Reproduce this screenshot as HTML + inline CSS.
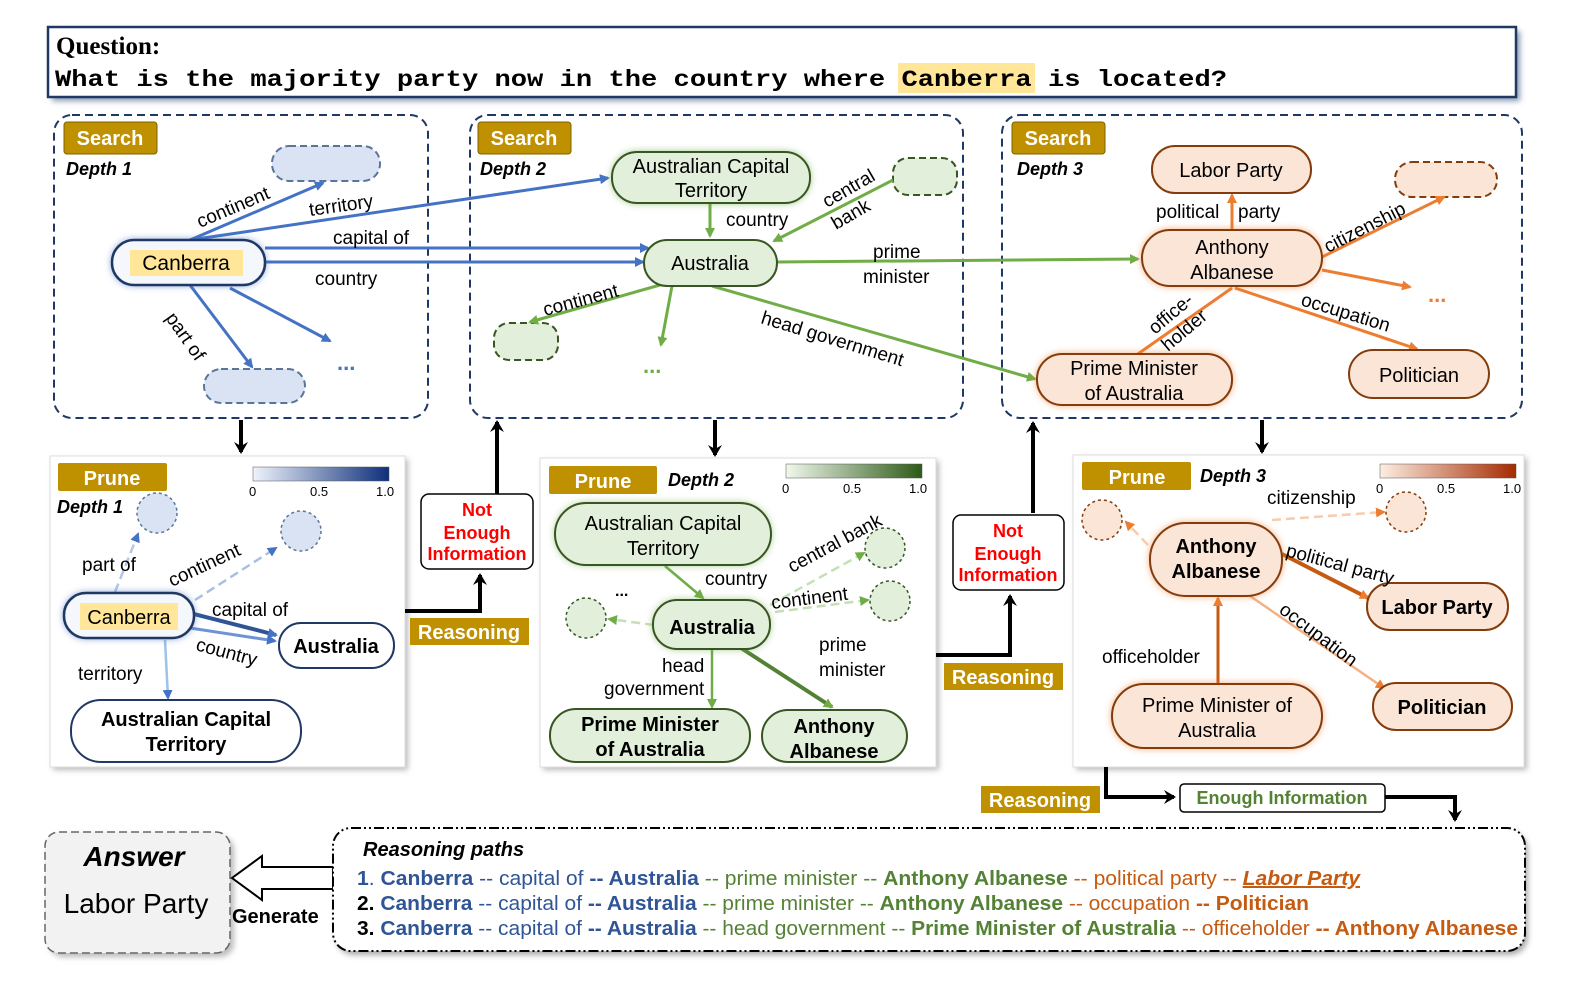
<!DOCTYPE html>
<html><head><meta charset="utf-8"><style>
html,body{margin:0;padding:0;background:#fff;}
svg{display:block;font-family:"Liberation Sans",Arial,sans-serif;}
</style></head><body>
<svg width="1570" height="1002" viewBox="0 0 1570 1002" xmlns="http://www.w3.org/2000/svg">
<defs>
<filter id="gl" x="-30%" y="-50%" width="160%" height="200%"><feGaussianBlur stdDeviation="4"/></filter>
<filter id="sh" x="-5%" y="-5%" width="110%" height="115%"><feGaussianBlur stdDeviation="3"/></filter>
<marker id="ab" markerWidth="10" markerHeight="10" refX="8" refY="5" orient="auto" markerUnits="userSpaceOnUse"><path d="M0,0 L10,5 L0,10 z" fill="#4472c4"/></marker>
<marker id="ag" markerWidth="10" markerHeight="10" refX="8" refY="5" orient="auto" markerUnits="userSpaceOnUse"><path d="M0,0 L10,5 L0,10 z" fill="#70ad47"/></marker>
<marker id="ao" markerWidth="10" markerHeight="10" refX="8" refY="5" orient="auto" markerUnits="userSpaceOnUse"><path d="M0,0 L10,5 L0,10 z" fill="#ed7d31"/></marker>
<marker id="ak" markerWidth="14" markerHeight="14" refX="10" refY="7" orient="auto" markerUnits="userSpaceOnUse"><path d="M0,0 L12,7 L0,14 L4,7 z" fill="#000"/></marker>
<linearGradient id="cb" x1="0" x2="1"><stop offset="0" stop-color="#eef3fb"/><stop offset="1" stop-color="#0e2f7a"/></linearGradient>
<linearGradient id="cg" x1="0" x2="1"><stop offset="0" stop-color="#f1f8ec"/><stop offset="1" stop-color="#2d5a17"/></linearGradient>
<linearGradient id="co" x1="0" x2="1"><stop offset="0" stop-color="#fdeee3"/><stop offset="1" stop-color="#a52a00"/></linearGradient>
</defs>

<!-- Question -->
<rect x="52" y="31" width="1468" height="70" fill="#8a9ab5" filter="url(#sh)"/>
<rect x="48" y="27" width="1468" height="70" fill="#fff" stroke="#1f3864" stroke-width="2.5"/>
<text x="56" y="54" font-family="Liberation Serif,serif" font-weight="bold" font-size="25">Question:</text>
<rect x="898" y="63" width="137" height="30" fill="#ffe699"/>
<text x="55" y="86" font-family="Liberation Mono,monospace" font-weight="bold" font-size="23" textLength="1172" lengthAdjust="spacingAndGlyphs">What is the majority party now in the country where Canberra is located?</text>

<!-- Search panels -->
<rect x="54" y="115" width="374" height="303" rx="18" fill="none" stroke="#1f3864" stroke-width="2" stroke-dasharray="8,5"/>
<rect x="470" y="115" width="493" height="303" rx="18" fill="none" stroke="#1f3864" stroke-width="2" stroke-dasharray="8,5"/>
<rect x="1002" y="115" width="520" height="303" rx="18" fill="none" stroke="#1f3864" stroke-width="2" stroke-dasharray="8,5"/>
<g font-weight="bold" font-size="20" fill="#fff">
<rect x="64" y="122" width="93" height="32" rx="3" fill="#bf9000" stroke="#7f6000"/><text x="110" y="145" text-anchor="middle">Search</text>
<rect x="478" y="122" width="93" height="32" rx="3" fill="#bf9000" stroke="#7f6000"/><text x="524" y="145" text-anchor="middle">Search</text>
<rect x="1012" y="122" width="93" height="32" rx="3" fill="#bf9000" stroke="#7f6000"/><text x="1058" y="145" text-anchor="middle">Search</text>
</g>
<g font-weight="bold" font-style="italic" font-size="18">
<text x="66" y="175">Depth 1</text><text x="480" y="175">Depth 2</text><text x="1017" y="175">Depth 3</text>
</g>

<!-- Panel 1 search -->
<rect x="272" y="146" width="108" height="35" rx="17" fill="#dae3f3" stroke="#5a7599" stroke-width="2" stroke-dasharray="7,4"/>
<rect x="204" y="369" width="101" height="34" rx="17" fill="#dae3f3" stroke="#5a7599" stroke-width="2" stroke-dasharray="7,4"/>
<g stroke="#4472c4" stroke-width="3" fill="none">
<line x1="190" y1="240" x2="323" y2="183" marker-end="url(#ab)"/>
<line x1="190" y1="240" x2="608" y2="178" marker-end="url(#ab)"/>
<line x1="265" y1="248" x2="648" y2="248" marker-end="url(#ab)"/>
<line x1="265" y1="262" x2="643" y2="262" marker-end="url(#ab)"/>
<line x1="190" y1="285" x2="252" y2="367" marker-end="url(#ab)"/>
<line x1="230" y1="288" x2="330" y2="341" marker-end="url(#ab)"/>
</g>
<rect x="112" y="240" width="153" height="45" rx="22" fill="#4472c4" filter="url(#gl)" opacity="0.8"/>
<rect x="112" y="240" width="153" height="45" rx="22" fill="#f4f7fc" stroke="#1f3864" stroke-width="2.5"/>
<rect x="130" y="250" width="113" height="26" fill="#ffe699"/>
<text x="186" y="270" text-anchor="middle" font-size="21">Canberra</text>
<g font-size="19">
<text transform="translate(200,228) rotate(-23)">continent</text>
<text transform="translate(310,216) rotate(-8)">territory</text>
<text x="333" y="244">capital of</text>
<text x="315" y="285">country</text>
<text transform="translate(165,318) rotate(55)">part of</text>
</g>
<text x="337" y="370" font-size="22" fill="#4472c4" font-weight="bold">...</text>

<!-- Panel 2 search -->
<rect x="893" y="158" width="64" height="37" rx="15" fill="#e2efda" stroke="#375623" stroke-width="2" stroke-dasharray="7,4"/>
<rect x="494" y="323" width="64" height="37" rx="15" fill="#e2efda" stroke="#375623" stroke-width="2" stroke-dasharray="7,4"/>
<g stroke="#70ad47" stroke-width="3" fill="none">
<line x1="710" y1="203" x2="710" y2="236" marker-end="url(#ag)"/>
<line x1="893" y1="180" x2="774" y2="241" marker-end="url(#ag)"/>
<line x1="660" y1="285" x2="530" y2="322" marker-end="url(#ag)"/>
<line x1="672" y1="286" x2="661" y2="345" marker-end="url(#ag)"/>
<line x1="777" y1="262" x2="1138" y2="259" marker-end="url(#ag)"/>
<line x1="712" y1="286" x2="1035" y2="379" marker-end="url(#ag)"/>
</g>
<rect x="612" y="152" width="198" height="51" rx="25" fill="#70ad47" filter="url(#gl)" opacity="0.8"/>
<rect x="612" y="152" width="198" height="51" rx="25" fill="#e2efda" stroke="#375623" stroke-width="2"/>
<text x="711" y="173" text-anchor="middle" font-size="20">Australian Capital</text>
<text x="711" y="197" text-anchor="middle" font-size="20">Territory</text>
<rect x="644" y="240" width="133" height="46" rx="23" fill="#e2efda" stroke="#375623" stroke-width="2"/>
<text x="710" y="270" text-anchor="middle" font-size="20">Australia</text>
<g font-size="19">
<text x="726" y="226">country</text>
<text transform="translate(827,208) rotate(-30)">central</text>
<text transform="translate(836,230) rotate(-30)">bank</text>
<text transform="translate(545,316) rotate(-15)">continent</text>
<text x="873" y="258">prime</text>
<text x="863" y="283">minister</text>
<text transform="translate(760,323) rotate(17)">head government</text>
</g>
<text x="643" y="373" font-size="22" fill="#70ad47" font-weight="bold">...</text>

<!-- Panel 3 search -->
<rect x="1395" y="162" width="102" height="35" rx="17" fill="#fbe5d6" stroke="#843c0c" stroke-width="2" stroke-dasharray="7,4"/>
<g stroke="#ed7d31" stroke-width="3" fill="none">
<line x1="1232" y1="231" x2="1232" y2="195" marker-end="url(#ao)"/>
<line x1="1320" y1="258" x2="1444" y2="197" marker-end="url(#ao)"/>
<line x1="1322" y1="270" x2="1410" y2="287" marker-end="url(#ao)"/>
<line x1="1235" y1="288" x2="1417" y2="349" marker-end="url(#ao)"/>
<line x1="1135" y1="356" x2="1232" y2="288"/>
</g>
<rect x="1152" y="146" width="159" height="47" rx="23" fill="#fbe5d6" stroke="#843c0c" stroke-width="2"/>
<text x="1231" y="177" text-anchor="middle" font-size="20">Labor Party</text>
<rect x="1142" y="230" width="180" height="56" rx="28" fill="#ed7d31" filter="url(#gl)" opacity="0.8"/>
<rect x="1142" y="230" width="180" height="56" rx="28" fill="#fbe5d6" stroke="#843c0c" stroke-width="2"/>
<text x="1232" y="254" text-anchor="middle" font-size="20">Anthony</text>
<text x="1232" y="279" text-anchor="middle" font-size="20">Albanese</text>
<rect x="1037" y="354" width="195" height="51" rx="25" fill="#ed7d31" filter="url(#gl)" opacity="0.8"/>
<rect x="1037" y="354" width="195" height="51" rx="25" fill="#fbe5d6" stroke="#843c0c" stroke-width="2"/>
<text x="1134" y="375" text-anchor="middle" font-size="20">Prime Minister</text>
<text x="1134" y="400" text-anchor="middle" font-size="20">of Australia</text>
<rect x="1349" y="350" width="140" height="48" rx="24" fill="#fbe5d6" stroke="#843c0c" stroke-width="2"/>
<text x="1419" y="382" text-anchor="middle" font-size="20">Politician</text>
<g font-size="19">
<text x="1156" y="218">political</text>
<text x="1238" y="218">party</text>
<text transform="translate(1328,253) rotate(-27)">citizenship</text>
<text transform="translate(1300,305) rotate(17)">occupation</text>
<text transform="translate(1155,335) rotate(-40)">office-</text>
<text transform="translate(1168,352) rotate(-40)">holder</text>
</g>
<text x="1428" y="302" font-size="22" fill="#ed7d31" font-weight="bold">...</text>

<!-- Prune panels -->
<g>
<rect x="53" y="459" width="355" height="311" fill="#bbb" filter="url(#sh)"/>
<rect x="50" y="456" width="355" height="311" fill="#fff" stroke="#ddd"/>
<rect x="543" y="461" width="396" height="309" fill="#bbb" filter="url(#sh)"/>
<rect x="540" y="458" width="396" height="309" fill="#fff" stroke="#ddd"/>
<rect x="1076" y="458" width="451" height="312" fill="#bbb" filter="url(#sh)"/>
<rect x="1073" y="455" width="451" height="312" fill="#fff" stroke="#ddd"/>
</g>
<g font-weight="bold" font-size="20" fill="#fff">
<rect x="58" y="463" width="109" height="28" rx="2" fill="#bf9000"/><text x="112" y="485" text-anchor="middle">Prune</text>
<rect x="549" y="466" width="108" height="28" rx="2" fill="#bf9000"/><text x="603" y="488" text-anchor="middle">Prune</text>
<rect x="1082" y="462" width="109" height="28" rx="2" fill="#bf9000"/><text x="1137" y="484" text-anchor="middle">Prune</text>
</g>
<g font-weight="bold" font-style="italic" font-size="18">
<text x="57" y="513">Depth 1</text><text x="668" y="486">Depth 2</text><text x="1200" y="482">Depth 3</text>
</g>
<g font-size="13">
<rect x="253" y="467" width="136" height="14" fill="url(#cb)" stroke="#555" stroke-width="0.5"/>
<text x="249" y="496">0</text><text x="310" y="496">0.5</text><text x="376" y="496">1.0</text>
<rect x="786" y="464" width="136" height="14" fill="url(#cg)" stroke="#555" stroke-width="0.5"/>
<text x="782" y="493">0</text><text x="843" y="493">0.5</text><text x="909" y="493">1.0</text>
<rect x="1380" y="464" width="136" height="14" fill="url(#co)" stroke="#555" stroke-width="0.5"/>
<text x="1376" y="493">0</text><text x="1437" y="493">0.5</text><text x="1503" y="493">1.0</text>
</g>

<!-- Prune 1 -->
<g stroke="#5a7599" stroke-width="1.5" stroke-dasharray="3,3" fill="#dae3f3">
<circle cx="157" cy="513" r="20"/><circle cx="301" cy="531" r="20"/>
</g>
<g fill="none">
<line x1="115" y1="592" x2="138" y2="534" stroke="#b4c7e7" stroke-width="2.5" stroke-dasharray="9,5" marker-end="url(#ab)"/>
<line x1="195" y1="600" x2="276" y2="548" stroke="#a9bfe3" stroke-width="2.5" stroke-dasharray="9,5" marker-end="url(#ab)"/>
<line x1="194" y1="614" x2="276" y2="635" stroke="#2f5597" stroke-width="4" marker-end="url(#ab)"/>
<line x1="190" y1="628" x2="275" y2="641" stroke="#6f94d4" stroke-width="3" marker-end="url(#ab)"/>
<line x1="165" y1="640" x2="168" y2="698" stroke="#9dc3e6" stroke-width="2.5" marker-end="url(#ab)"/>
</g>
<rect x="64" y="593" width="130" height="45" rx="22" fill="#4472c4" filter="url(#gl)" opacity="0.8"/>
<rect x="64" y="593" width="130" height="45" rx="22" fill="#f4f7fc" stroke="#1f3864" stroke-width="2.5"/>
<rect x="80" y="603" width="98" height="27" fill="#ffe699"/>
<text x="129" y="624" text-anchor="middle" font-size="20">Canberra</text>
<rect x="279" y="623" width="115" height="45" rx="22" fill="#fff" stroke="#1f3864" stroke-width="2"/>
<text x="336" y="653" text-anchor="middle" font-size="20" font-weight="bold">Australia</text>
<rect x="71" y="700" width="230" height="62" rx="30" fill="#fff" stroke="#1f3864" stroke-width="2"/>
<text x="186" y="726" text-anchor="middle" font-size="20" font-weight="bold">Australian Capital</text>
<text x="186" y="751" text-anchor="middle" font-size="20" font-weight="bold">Territory</text>
<g font-size="19">
<text x="82" y="571">part of</text>
<text transform="translate(172,587) rotate(-25)">continent</text>
<text x="212" y="616">capital of</text>
<text transform="translate(195,650) rotate(15)">country</text>
<text x="78" y="680">territory</text>
</g>

<!-- Prune 2 -->
<g stroke="#375623" stroke-width="1.5" stroke-dasharray="3,3" fill="#e2efda">
<circle cx="586" cy="618" r="20"/><circle cx="885" cy="548" r="20"/><circle cx="890" cy="601" r="20"/>
</g>
<g fill="none">
<line x1="665" y1="566" x2="703" y2="598" stroke="#70ad47" stroke-width="2.5" marker-end="url(#ag)"/>
<line x1="770" y1="605" x2="864" y2="553" stroke="#c5e0b4" stroke-width="2.5" stroke-dasharray="9,5" marker-end="url(#ag)"/>
<line x1="775" y1="612" x2="868" y2="600" stroke="#c5e0b4" stroke-width="2.5" stroke-dasharray="9,5" marker-end="url(#ag)"/>
<line x1="654" y1="625" x2="609" y2="619" stroke="#c5e0b4" stroke-width="2.5" stroke-dasharray="9,5" marker-end="url(#ag)"/>
<line x1="712" y1="650" x2="712" y2="707" stroke="#70ad47" stroke-width="2.5" marker-end="url(#ag)"/>
<line x1="741" y1="648" x2="832" y2="707" stroke="#548235" stroke-width="4" marker-end="url(#ag)"/>
</g>
<rect x="555" y="503" width="216" height="62" rx="31" fill="#70ad47" filter="url(#gl)" opacity="0.7"/>
<rect x="555" y="503" width="216" height="62" rx="31" fill="#e2efda" stroke="#375623" stroke-width="2"/>
<text x="663" y="530" text-anchor="middle" font-size="20">Australian Capital</text>
<text x="663" y="555" text-anchor="middle" font-size="20">Territory</text>
<rect x="653" y="600" width="117" height="49" rx="24" fill="#70ad47" filter="url(#gl)" opacity="0.7"/>
<rect x="653" y="600" width="117" height="49" rx="24" fill="#e2efda" stroke="#375623" stroke-width="2"/>
<text x="712" y="634" text-anchor="middle" font-size="20" font-weight="bold">Australia</text>
<rect x="550" y="709" width="200" height="53" rx="26" fill="#e2efda" stroke="#375623" stroke-width="2"/>
<text x="650" y="731" text-anchor="middle" font-size="20" font-weight="bold">Prime Minister</text>
<text x="650" y="756" text-anchor="middle" font-size="20" font-weight="bold">of Australia</text>
<rect x="762" y="710" width="145" height="52" rx="26" fill="#e2efda" stroke="#375623" stroke-width="2"/>
<text x="834" y="733" text-anchor="middle" font-size="20" font-weight="bold">Anthony</text>
<text x="834" y="758" text-anchor="middle" font-size="20" font-weight="bold">Albanese</text>
<g font-size="19">
<text x="705" y="585">country</text>
<text transform="translate(792,573) rotate(-28)">central bank</text>
<text transform="translate(772,609) rotate(-7)">continent</text>
<text x="615" y="596" font-weight="bold" font-size="16">...</text>
<text x="662" y="672">head</text>
<text x="604" y="695">government</text>
<text x="819" y="651">prime</text>
<text x="819" y="676">minister</text>
</g>

<!-- Prune 3 -->
<g stroke="#843c0c" stroke-width="1.5" stroke-dasharray="3,3" fill="#fbe5d6">
<circle cx="1102" cy="520" r="20"/><circle cx="1406" cy="512" r="20"/>
</g>
<g fill="none">
<line x1="1272" y1="520" x2="1384" y2="512" stroke="#f8cbad" stroke-width="2.5" stroke-dasharray="9,5" marker-end="url(#ao)"/>
<line x1="1148" y1="545" x2="1126" y2="522" stroke="#f8cbad" stroke-width="2.5" stroke-dasharray="9,5" marker-end="url(#ao)"/>
<line x1="1282" y1="554" x2="1368" y2="598" stroke="#c55a11" stroke-width="4" marker-end="url(#ao)"/>
<line x1="1250" y1="596" x2="1384" y2="688" stroke="#f4b183" stroke-width="2.5" marker-end="url(#ao)"/>
<line x1="1218" y1="684" x2="1218" y2="598" stroke="#c55a11" stroke-width="3" marker-end="url(#ao)"/>
</g>
<rect x="1150" y="523" width="132" height="73" rx="36" fill="#ed7d31" filter="url(#gl)" opacity="0.8"/>
<rect x="1150" y="523" width="132" height="73" rx="36" fill="#fbe5d6" stroke="#843c0c" stroke-width="2"/>
<text x="1216" y="553" text-anchor="middle" font-size="20" font-weight="bold">Anthony</text>
<text x="1216" y="578" text-anchor="middle" font-size="20" font-weight="bold">Albanese</text>
<rect x="1367" y="583" width="141" height="47" rx="23" fill="#fbe5d6" stroke="#843c0c" stroke-width="2"/>
<text x="1437" y="614" text-anchor="middle" font-size="20" font-weight="bold">Labor Party</text>
<rect x="1373" y="683" width="139" height="47" rx="23" fill="#fbe5d6" stroke="#843c0c" stroke-width="2"/>
<text x="1442" y="714" text-anchor="middle" font-size="20" font-weight="bold">Politician</text>
<rect x="1112" y="684" width="210" height="64" rx="32" fill="#ed7d31" filter="url(#gl)" opacity="0.8"/>
<rect x="1112" y="684" width="210" height="64" rx="32" fill="#fbe5d6" stroke="#843c0c" stroke-width="2"/>
<text x="1217" y="712" text-anchor="middle" font-size="20">Prime Minister of</text>
<text x="1217" y="737" text-anchor="middle" font-size="20">Australia</text>
<g font-size="19">
<text x="1267" y="504">citizenship</text>
<text transform="translate(1285,556) rotate(15)">political party</text>
<text transform="translate(1278,612) rotate(37)">occupation</text>
<text x="1102" y="663">officeholder</text>
</g>

<!-- Flow arrows -->
<g stroke="#000" stroke-width="4" fill="none">
<line x1="241" y1="420" x2="241" y2="452" marker-end="url(#ak)"/>
<line x1="715" y1="420" x2="715" y2="455" marker-end="url(#ak)"/>
<line x1="1262" y1="420" x2="1262" y2="452" marker-end="url(#ak)"/>
<line x1="497" y1="494" x2="497" y2="422" marker-end="url(#ak)"/>
<polyline points="405,611 480,611 480,575" marker-end="url(#ak)"/>
<line x1="1033" y1="513" x2="1033" y2="423" marker-end="url(#ak)"/>
<polyline points="936,655 1010,655 1010,596" marker-end="url(#ak)"/>
<polyline points="1106,767 1106,797 1174,797" marker-end="url(#ak)"/>
<polyline points="1385,797 1455,797 1455,820" marker-end="url(#ak)"/>
</g>
<g font-weight="bold" font-size="18" fill="#ff0000" text-anchor="middle">
<rect x="421" y="494" width="112" height="75" rx="8" fill="#fff" stroke="#000" stroke-width="1.5"/>
<text x="477" y="516">Not</text><text x="477" y="539">Enough</text><text x="477" y="560">Information</text>
<rect x="953" y="515" width="111" height="75" rx="8" fill="#fff" stroke="#000" stroke-width="1.5"/>
<text x="1008" y="537">Not</text><text x="1008" y="560">Enough</text><text x="1008" y="581">Information</text>
</g>
<g font-weight="bold" font-size="20" fill="#fff" text-anchor="middle">
<rect x="410" y="618" width="119" height="27" fill="#bf9000"/><text x="469" y="639">Reasoning</text>
<rect x="944" y="663" width="119" height="27" fill="#bf9000"/><text x="1003" y="684">Reasoning</text>
<rect x="981" y="786" width="119" height="27" fill="#bf9000"/><text x="1040" y="807">Reasoning</text>
</g>
<rect x="1180" y="784" width="205" height="28" rx="4" fill="#fff" stroke="#000" stroke-width="1.5"/>
<text x="1282" y="804" text-anchor="middle" font-size="18" font-weight="bold" fill="#548235">Enough Information</text>

<!-- Answer -->
<rect x="49" y="836" width="185" height="121" rx="14" fill="#bbb" filter="url(#sh)"/>
<rect x="45" y="832" width="185" height="121" rx="14" fill="#f2f2f2" stroke="#666" stroke-width="1.5" stroke-dasharray="8,4"/>
<text x="134" y="866" text-anchor="middle" font-size="28" font-weight="bold" font-style="italic">Answer</text>
<text x="136" y="913" text-anchor="middle" font-size="28">Labor Party</text>
<path d="M333,867 L262,867 L262,856 L232,878 L262,900 L262,889 L333,889 z" fill="#fff" stroke="#000" stroke-width="2"/>
<text x="232" y="923" font-size="20" font-weight="bold">Generate</text>

<!-- Reasoning paths -->
<rect x="336" y="832" width="1192" height="123" rx="18" fill="#aaa" filter="url(#sh)"/>
<rect x="333" y="828" width="1192" height="123" rx="18" fill="#fff" stroke="#000" stroke-width="2" stroke-dasharray="10,3,2,3,2,3"/>
<text x="363" y="856" font-size="20" font-weight="bold" font-style="italic">Reasoning paths</text>
<g font-size="20">
<text x="357" y="885" textLength="1003" lengthAdjust="spacingAndGlyphs"><tspan fill="#2f5597" font-weight="bold">1</tspan><tspan fill="#2f5597">. </tspan><tspan fill="#2f5597" font-weight="bold">Canberra</tspan><tspan fill="#2f5597"> -- capital of </tspan><tspan fill="#2f5597" font-weight="bold">-- Australia</tspan><tspan fill="#548235"> -- prime minister -- </tspan><tspan fill="#548235" font-weight="bold">Anthony Albanese</tspan><tspan fill="#c55a11"> -- political party --  </tspan><tspan fill="#c55a11" font-weight="bold" font-style="italic" text-decoration="underline">Labor Party</tspan></text>
<text x="357" y="910" textLength="952" lengthAdjust="spacingAndGlyphs"><tspan font-weight="bold">2. </tspan><tspan fill="#2f5597" font-weight="bold">Canberra</tspan><tspan fill="#2f5597"> -- capital of </tspan><tspan fill="#2f5597" font-weight="bold">-- Australia</tspan><tspan fill="#548235"> -- prime minister -- </tspan><tspan fill="#548235" font-weight="bold">Anthony Albanese</tspan><tspan fill="#c55a11"> -- occupation </tspan><tspan fill="#c55a11" font-weight="bold">-- Politician</tspan></text>
<text x="357" y="935" textLength="1161" lengthAdjust="spacingAndGlyphs"><tspan font-weight="bold">3. </tspan><tspan fill="#2f5597" font-weight="bold">Canberra</tspan><tspan fill="#2f5597"> -- capital of </tspan><tspan fill="#2f5597" font-weight="bold">-- Australia</tspan><tspan fill="#548235"> -- head government -- </tspan><tspan fill="#548235" font-weight="bold">Prime Minister of Australia</tspan><tspan fill="#c55a11"> -- officeholder </tspan><tspan fill="#c55a11" font-weight="bold">-- Anthony Albanese</tspan></text>
</g>
</svg>
</body></html>
